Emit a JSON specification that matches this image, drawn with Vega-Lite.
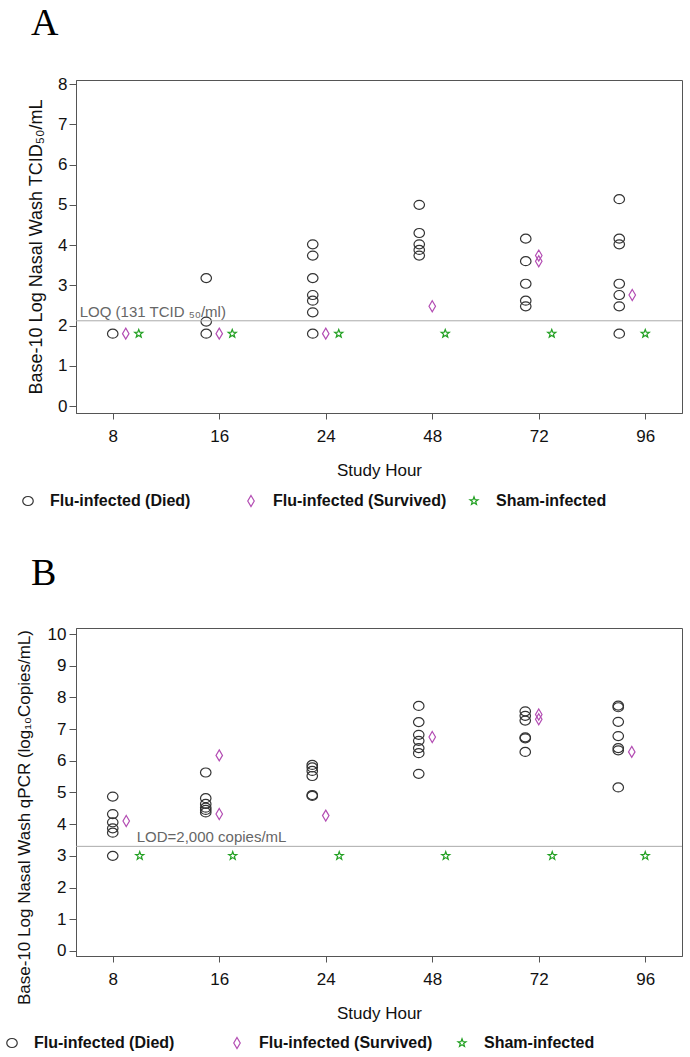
{
  "$schema": "https://vega.github.io/schema/vega-lite/v6.json",
  "background": "white",
  "padding": {"left": 3, "top": 4, "right": 5, "bottom": 2},
  "spacing": 44,
  "resolve": {"scale": {"color": "independent", "shape": "independent"}, "legend": {"color": "independent", "shape": "independent"}},
  "config": {
    "view": {"stroke": "#555555", "strokeWidth": 1},
    "font": "Liberation Sans",
    "axis": {"labelFont": "Liberation Sans", "titleFont": "Liberation Sans", "labelFontSize": 17, "titleFontSize": 17, "titleFontWeight": "normal", "labelColor": "#111111", "titleColor": "#111111", "domainColor": "#555555", "tickColor": "#555555", "grid": false, "labelOverlap": false, "labelFlush": false},
    "legend": {"orient": "none", "direction": "horizontal", "columns": 3, "gridAlign": "all", "title": null, "labelFontSize": 16, "labelFontWeight": "bold", "labelFont": "Liberation Sans", "labelColor": "#111111", "labelOffset": 14, "labelLimit": 400, "symbolSize": 100, "symbolStrokeWidth": 1.2, "padding": 0},
    "title": {"font": "Liberation Serif", "fontSize": 38, "fontWeight": "normal", "color": "#000000", "anchor": "start", "frame": "group", "dx": -45, "baseline": "alphabetic", "offset": 32}
  },
  "datasets": {
    "a": [
      {"hour": 8, "group": "Flu-infected (Died)", "value": 1.8},
      {"hour": 8, "group": "Flu-infected (Survived)", "value": 1.8},
      {"hour": 8, "group": "Sham-infected", "value": 1.8},
      {"hour": 16, "group": "Flu-infected (Died)", "value": 3.18},
      {"hour": 16, "group": "Flu-infected (Died)", "value": 2.1},
      {"hour": 16, "group": "Flu-infected (Died)", "value": 1.8},
      {"hour": 16, "group": "Flu-infected (Survived)", "value": 1.8},
      {"hour": 16, "group": "Sham-infected", "value": 1.8},
      {"hour": 24, "group": "Flu-infected (Died)", "value": 4.02},
      {"hour": 24, "group": "Flu-infected (Died)", "value": 3.74},
      {"hour": 24, "group": "Flu-infected (Died)", "value": 3.18},
      {"hour": 24, "group": "Flu-infected (Died)", "value": 2.76},
      {"hour": 24, "group": "Flu-infected (Died)", "value": 2.62},
      {"hour": 24, "group": "Flu-infected (Died)", "value": 2.33},
      {"hour": 24, "group": "Flu-infected (Died)", "value": 1.8},
      {"hour": 24, "group": "Flu-infected (Survived)", "value": 1.8},
      {"hour": 24, "group": "Sham-infected", "value": 1.8},
      {"hour": 48, "group": "Flu-infected (Died)", "value": 5.0},
      {"hour": 48, "group": "Flu-infected (Died)", "value": 4.3},
      {"hour": 48, "group": "Flu-infected (Died)", "value": 4.02},
      {"hour": 48, "group": "Flu-infected (Died)", "value": 3.88},
      {"hour": 48, "group": "Flu-infected (Died)", "value": 3.74},
      {"hour": 48, "group": "Flu-infected (Survived)", "value": 2.48},
      {"hour": 48, "group": "Sham-infected", "value": 1.8},
      {"hour": 72, "group": "Flu-infected (Died)", "value": 4.16},
      {"hour": 72, "group": "Flu-infected (Died)", "value": 3.6},
      {"hour": 72, "group": "Flu-infected (Died)", "value": 3.04},
      {"hour": 72, "group": "Flu-infected (Died)", "value": 2.62},
      {"hour": 72, "group": "Flu-infected (Died)", "value": 2.48},
      {"hour": 72, "group": "Flu-infected (Survived)", "value": 3.74},
      {"hour": 72, "group": "Flu-infected (Survived)", "value": 3.6},
      {"hour": 72, "group": "Sham-infected", "value": 1.8},
      {"hour": 96, "group": "Flu-infected (Died)", "value": 5.14},
      {"hour": 96, "group": "Flu-infected (Died)", "value": 4.16},
      {"hour": 96, "group": "Flu-infected (Died)", "value": 4.02},
      {"hour": 96, "group": "Flu-infected (Died)", "value": 3.04},
      {"hour": 96, "group": "Flu-infected (Died)", "value": 2.76},
      {"hour": 96, "group": "Flu-infected (Died)", "value": 2.48},
      {"hour": 96, "group": "Flu-infected (Died)", "value": 1.8},
      {"hour": 96, "group": "Flu-infected (Survived)", "value": 2.76},
      {"hour": 96, "group": "Sham-infected", "value": 1.8}
    ],
    "b": [
      {"hour": 8, "group": "Flu-infected (Died)", "value": 4.87},
      {"hour": 8, "group": "Flu-infected (Died)", "value": 4.32},
      {"hour": 8, "group": "Flu-infected (Died)", "value": 4.06},
      {"hour": 8, "group": "Flu-infected (Died)", "value": 3.87},
      {"hour": 8, "group": "Flu-infected (Died)", "value": 3.73},
      {"hour": 8, "group": "Flu-infected (Died)", "value": 3.0},
      {"hour": 8, "group": "Flu-infected (Survived)", "value": 4.1},
      {"hour": 8, "group": "Sham-infected", "value": 3.0},
      {"hour": 16, "group": "Flu-infected (Died)", "value": 5.63},
      {"hour": 16, "group": "Flu-infected (Died)", "value": 4.82},
      {"hour": 16, "group": "Flu-infected (Died)", "value": 4.64},
      {"hour": 16, "group": "Flu-infected (Died)", "value": 4.52},
      {"hour": 16, "group": "Flu-infected (Died)", "value": 4.45},
      {"hour": 16, "group": "Flu-infected (Died)", "value": 4.37},
      {"hour": 16, "group": "Flu-infected (Survived)", "value": 6.17},
      {"hour": 16, "group": "Flu-infected (Survived)", "value": 4.32},
      {"hour": 16, "group": "Sham-infected", "value": 3.0},
      {"hour": 24, "group": "Flu-infected (Died)", "value": 5.87},
      {"hour": 24, "group": "Flu-infected (Died)", "value": 5.79},
      {"hour": 24, "group": "Flu-infected (Died)", "value": 5.68},
      {"hour": 24, "group": "Flu-infected (Died)", "value": 5.52},
      {"hour": 24, "group": "Flu-infected (Died)", "value": 4.92},
      {"hour": 24, "group": "Flu-infected (Died)", "value": 4.89},
      {"hour": 24, "group": "Flu-infected (Survived)", "value": 4.27},
      {"hour": 24, "group": "Sham-infected", "value": 3.0},
      {"hour": 48, "group": "Flu-infected (Died)", "value": 7.73},
      {"hour": 48, "group": "Flu-infected (Died)", "value": 7.22},
      {"hour": 48, "group": "Flu-infected (Died)", "value": 6.82},
      {"hour": 48, "group": "Flu-infected (Died)", "value": 6.63},
      {"hour": 48, "group": "Flu-infected (Died)", "value": 6.4},
      {"hour": 48, "group": "Flu-infected (Died)", "value": 6.24},
      {"hour": 48, "group": "Flu-infected (Died)", "value": 5.59},
      {"hour": 48, "group": "Flu-infected (Survived)", "value": 6.75},
      {"hour": 48, "group": "Sham-infected", "value": 3.0},
      {"hour": 72, "group": "Flu-infected (Died)", "value": 7.56},
      {"hour": 72, "group": "Flu-infected (Died)", "value": 7.42},
      {"hour": 72, "group": "Flu-infected (Died)", "value": 7.27},
      {"hour": 72, "group": "Flu-infected (Died)", "value": 6.74},
      {"hour": 72, "group": "Flu-infected (Died)", "value": 6.71},
      {"hour": 72, "group": "Flu-infected (Died)", "value": 6.28},
      {"hour": 72, "group": "Flu-infected (Survived)", "value": 7.46},
      {"hour": 72, "group": "Flu-infected (Survived)", "value": 7.31},
      {"hour": 72, "group": "Sham-infected", "value": 3.0},
      {"hour": 96, "group": "Flu-infected (Died)", "value": 7.74},
      {"hour": 96, "group": "Flu-infected (Died)", "value": 7.69},
      {"hour": 96, "group": "Flu-infected (Died)", "value": 7.23},
      {"hour": 96, "group": "Flu-infected (Died)", "value": 6.78},
      {"hour": 96, "group": "Flu-infected (Died)", "value": 6.4},
      {"hour": 96, "group": "Flu-infected (Died)", "value": 6.33},
      {"hour": 96, "group": "Flu-infected (Died)", "value": 5.16},
      {"hour": 96, "group": "Flu-infected (Survived)", "value": 6.28},
      {"hour": 96, "group": "Sham-infected", "value": 3.0}
    ]
  },
  "vconcat": [
    {
      "title": {"text": "A"},
      "width": 606,
      "height": 333,
      "layer": [
        {
          "data": {"name": "a"},
          "encoding": {
            "x": {"field": "hour", "type": "ordinal", "scale": {"type": "point", "domain": [8, 16, 24, 48, 72, 96], "padding": 0.345}, "axis": {"title": "Study Hour", "labelAngle": 0, "tickSize": 6, "labelPadding": 9, "titlePadding": 18}},
            "y": {"field": "value", "type": "quantitative", "scale": {"domain": [-0.17, 8.1], "nice": false, "zero": false}, "axis": {"values": [0, 1, 2, 3, 4, 5, 6, 7, 8], "title": "Base-10 Log Nasal Wash TCID₅₀/mL", "titleFontSize": 18, "tickSize": 7, "labelPadding": 2, "titlePadding": 12, "labelOverlap": false}},
            "color": {"field": "group", "type": "nominal", "scale": {"domain": ["Flu-infected (Died)", "Flu-infected (Survived)", "Sham-infected"], "range": ["#333333", "#b34db3", "#22a022"]},
              "legend": {"legendX": -56, "legendY": 413, "columnPadding": 19}},
            "shape": {"field": "group", "type": "nominal", "scale": {"domain": ["Flu-infected (Died)", "Flu-infected (Survived)", "Sham-infected"], "range": ["M-1.05,0A1.05,0.9,0,1,1,1.05,0A1.05,0.9,0,1,1,-1.05,0Z", "M0,-1.1L0.65,0L0,1.1L-0.65,0Z", "M0,-0.85L0.206,-0.283L0.808,-0.263L0.333,0.108L0.5,0.688L0,0.35L-0.5,0.688L-0.333,0.108L-0.808,-0.263L-0.206,-0.283Z"]},
              "legend": {"legendX": -56, "legendY": 413, "columnPadding": 19}}
          },
          "layer": [
            {"transform": [{"filter": "datum.hour == 8"}], "mark": {"type": "point", "filled": false, "strokeWidth": 1.2, "size": 100, "opacity": 1},
              "encoding": {"xOffset": {"field": "group", "type": "nominal", "scale": {"type": "point", "domain": ["Flu-infected (Died)", "Flu-infected (Survived)", "Sham-infected"], "range": [0, 26], "padding": 0}}}},
            {"transform": [{"filter": "datum.hour > 8 && datum.hour < 96"}], "mark": {"type": "point", "filled": false, "strokeWidth": 1.2, "size": 100, "opacity": 1},
              "encoding": {"xOffset": {"field": "group", "type": "nominal", "scale": {"type": "point", "domain": ["Flu-infected (Died)", "Flu-infected (Survived)", "Sham-infected"], "range": [-13, 13], "padding": 0}}}},
            {"transform": [{"filter": "datum.hour == 96"}], "mark": {"type": "point", "filled": false, "strokeWidth": 1.2, "size": 100, "opacity": 1},
              "encoding": {"xOffset": {"field": "group", "type": "nominal", "scale": {"type": "point", "domain": ["Flu-infected (Died)", "Flu-infected (Survived)", "Sham-infected"], "range": [-26, 0], "padding": 0}}}}
          ],
          "resolve": {"scale": {"xOffset": "independent"}}
        },
        {"data": {"values": [{}]}, "mark": {"type": "rule", "color": "#aaaaaa", "strokeWidth": 1}, "encoding": {"y": {"datum": 2.12, "type": "quantitative", "axis": {"values": [0, 1, 2, 3, 4, 5, 6, 7, 8], "title": "Base-10 Log Nasal Wash TCID₅₀/mL", "titleFontSize": 18, "tickSize": 7, "labelPadding": 2, "titlePadding": 12, "labelOverlap": false}}}},
        {"data": {"values": [{}]}, "mark": {"type": "text", "align": "left", "baseline": "alphabetic", "dx": -33, "dy": -4, "fontSize": 15, "font": "Liberation Sans", "color": "#666666"}, "encoding": {"x": {"datum": 8, "type": "ordinal"}, "y": {"datum": 2.12, "type": "quantitative", "axis": {"values": [0, 1, 2, 3, 4, 5, 6, 7, 8], "title": "Base-10 Log Nasal Wash TCID₅₀/mL", "titleFontSize": 18, "tickSize": 7, "labelPadding": 2, "titlePadding": 12, "labelOverlap": false}}, "text": {"value": "LOQ (131 TCID ₅₀/ml)"}}}
      ]
    },
    {
      "title": {"text": "B"},
      "width": 606,
      "height": 328,
      "layer": [
        {
          "data": {"name": "b"},
          "encoding": {
            "x": {"field": "hour", "type": "ordinal", "scale": {"type": "point", "domain": [8, 16, 24, 48, 72, 96], "padding": 0.345}, "axis": {"title": "Study Hour", "labelAngle": 0, "tickSize": 6, "labelPadding": 9, "titlePadding": 18}},
            "y": {"field": "value", "type": "quantitative", "scale": {"domain": [-0.16, 10.19], "nice": false, "zero": false}, "axis": {"values": [0, 1, 2, 3, 4, 5, 6, 7, 8, 9, 10], "title": "Base-10 Log Nasal Wash qPCR (log₁₀Copies/mL)", "titleFontSize": 17, "titleY": 189, "tickSize": 7, "labelPadding": 3, "titlePadding": 14, "labelOverlap": false}},
            "color": {"field": "group", "type": "nominal", "scale": {"domain": ["Flu-infected (Died)", "Flu-infected (Survived)", "Sham-infected"], "range": ["#333333", "#b34db3", "#22a022"]},
              "legend": {"legendX": -72, "legendY": 407, "columnPadding": 21}},
            "shape": {"field": "group", "type": "nominal", "scale": {"domain": ["Flu-infected (Died)", "Flu-infected (Survived)", "Sham-infected"], "range": ["M-1.05,0A1.05,0.9,0,1,1,1.05,0A1.05,0.9,0,1,1,-1.05,0Z", "M0,-1.1L0.65,0L0,1.1L-0.65,0Z", "M0,-0.85L0.206,-0.283L0.808,-0.263L0.333,0.108L0.5,0.688L0,0.35L-0.5,0.688L-0.333,0.108L-0.808,-0.263L-0.206,-0.283Z"]},
              "legend": {"legendX": -72, "legendY": 407, "columnPadding": 21}}
          },
          "layer": [
            {"transform": [{"filter": "datum.hour == 8"}], "mark": {"type": "point", "filled": false, "strokeWidth": 1.2, "size": 100, "opacity": 1},
              "encoding": {"xOffset": {"field": "group", "type": "nominal", "scale": {"type": "point", "domain": ["Flu-infected (Died)", "Flu-infected (Survived)", "Sham-infected"], "range": [0, 27], "padding": 0}}}},
            {"transform": [{"filter": "datum.hour > 8 && datum.hour < 96"}], "mark": {"type": "point", "filled": false, "strokeWidth": 1.2, "size": 100, "opacity": 1},
              "encoding": {"xOffset": {"field": "group", "type": "nominal", "scale": {"type": "point", "domain": ["Flu-infected (Died)", "Flu-infected (Survived)", "Sham-infected"], "range": [-13.5, 13.5], "padding": 0}}}},
            {"transform": [{"filter": "datum.hour == 96"}], "mark": {"type": "point", "filled": false, "strokeWidth": 1.2, "size": 100, "opacity": 1},
              "encoding": {"xOffset": {"field": "group", "type": "nominal", "scale": {"type": "point", "domain": ["Flu-infected (Died)", "Flu-infected (Survived)", "Sham-infected"], "range": [-27, 0], "padding": 0}}}}
          ],
          "resolve": {"scale": {"xOffset": "independent"}}
        },
        {"data": {"values": [{}]}, "mark": {"type": "rule", "color": "#aaaaaa", "strokeWidth": 1}, "encoding": {"y": {"datum": 3.3, "type": "quantitative", "axis": {"values": [0, 1, 2, 3, 4, 5, 6, 7, 8, 9, 10], "title": "Base-10 Log Nasal Wash qPCR (log₁₀Copies/mL)", "titleFontSize": 17, "titleY": 189, "tickSize": 7, "labelPadding": 3, "titlePadding": 14, "labelOverlap": false}}}},
        {"data": {"values": [{}]}, "mark": {"type": "text", "align": "left", "baseline": "alphabetic", "dx": 24, "dy": -4, "fontSize": 15, "font": "Liberation Sans", "color": "#666666"}, "encoding": {"x": {"datum": 8, "type": "ordinal"}, "y": {"datum": 3.3, "type": "quantitative", "axis": {"values": [0, 1, 2, 3, 4, 5, 6, 7, 8, 9, 10], "title": "Base-10 Log Nasal Wash qPCR (log₁₀Copies/mL)", "titleFontSize": 17, "titleY": 189, "tickSize": 7, "labelPadding": 3, "titlePadding": 14, "labelOverlap": false}}, "text": {"value": "LOD=2,000 copies/mL"}}}
      ]
    }
  ]
}
